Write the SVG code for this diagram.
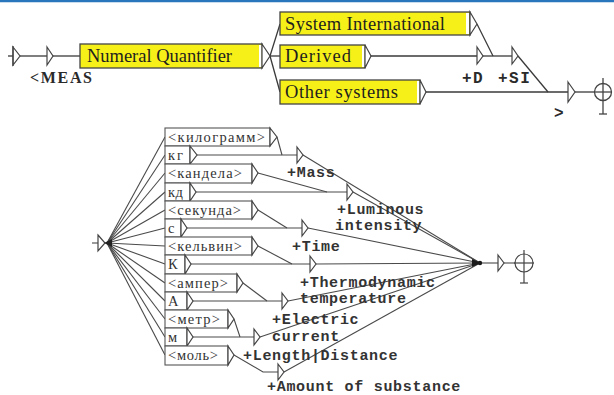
<svg xmlns="http://www.w3.org/2000/svg" width="614" height="395" viewBox="0 0 614 395">
  <style>
    .edge { fill: none; stroke: #3a3a3a; stroke-width: 1.3; }
    .edge2 { fill: none; stroke: #4a4a4a; stroke-width: 1.1; }
    .ybox { fill: #f6f018; stroke: #444; stroke-width: 1.3; }
    .wbox { fill: #ffffff; stroke: #555; stroke-width: 1.1; }
    .tri { fill: #ffffff; stroke: #444; stroke-width: 1.2; }
    .ttl { font-family: "Liberation Serif", serif; font-size: 18.5px; fill: #1e1e1e; }
    .cell { font-family: "Liberation Serif", serif; font-size: 14.5px; fill: #333; }
    .out { font-family: "Liberation Mono", monospace; font-weight: bold; font-size: 15px; fill: #333; letter-spacing: 0.7px; }
    .out2 { font-family: "Liberation Mono", monospace; font-weight: bold; font-size: 16px; fill: #2a2a2a; letter-spacing: 1.5px; }
    .meas { font-family: "Liberation Serif", serif; font-weight: bold; font-size: 16px; fill: #2a2a2a; }
  </style>

  <rect x="0" y="0" width="614" height="395" fill="#ffffff"/>
  <line x1="0" y1="1" x2="614" y2="1" stroke="#2a76bc" stroke-width="2.5"/>

  <!-- ===== upper graph ===== -->
  <g id="connectors-top">
    <path class="edge" d="M8,56 H13"/>
    <path class="edge" d="M20,56 H47"/>
    <path class="edge" d="M52,56 H80"/>
    <path class="edge" d="M270,56 L280,24"/>
    <path class="edge" d="M270,56 H280"/>
    <path class="edge" d="M270,56 L280,92"/>
    <path class="edge" d="M477,24 L493,56"/>
    <path class="edge" d="M370,56 H477"/>
    <path class="edge" d="M483,56 H512"/>
    <path class="edge" d="M518,56 L548,92"/>
    <path class="edge" d="M425,92 H568"/>
    <path class="edge" d="M575,92 H595"/>
  </g>

  <g id="start-top">
    <polygon class="tri" points="13,47 20,56 13,65"/>
    <line x1="13" y1="46" x2="13" y2="66" stroke="#444" stroke-width="1.3"/>
  </g>

  <g id="meas">
    <polygon class="tri" points="47,47 53,56 47,65"/>
    <text class="meas" x="30" y="83" textLength="62" lengthAdjust="spacing">&lt;MEAS</text>
  </g>

  <g id="numeral-quantifier">
    <rect class="ybox" x="80" y="44" width="182" height="24"/>
    <rect x="259" y="45" width="2.5" height="22" fill="#ffffff"/>
    <polygon class="tri" points="262,44 270,56 262,68"/>
    <text class="ttl" x="87" y="62" textLength="145" lengthAdjust="spacing">Numeral Quantifier</text>
  </g>

  <g id="system-international">
    <rect class="ybox" x="280" y="12" width="190" height="23"/>
    <rect x="466" y="13" width="3" height="21" fill="#ffffff"/>
    <polygon class="tri" points="470,12 477,24 470,35"/>
    <text class="ttl" x="285" y="30" textLength="160" lengthAdjust="spacing">System International</text>
  </g>

  <g id="derived">
    <rect class="ybox" x="280" y="45" width="85" height="23"/>
    <rect x="362" y="46" width="2.5" height="21" fill="#ffffff"/>
    <polygon class="tri" points="365,45 371,56 365,68"/>
    <text class="ttl" x="285" y="62" textLength="66" lengthAdjust="spacing">Derived</text>
  </g>

  <g id="other-systems">
    <rect class="ybox" x="280" y="80" width="140" height="24"/>
    <rect x="417" y="81" width="2.5" height="22" fill="#ffffff"/>
    <polygon class="tri" points="420,80 426,92 420,104"/>
    <text class="ttl" x="285" y="98" textLength="113" lengthAdjust="spacing">Other systems</text>
  </g>

  <g id="out-d">
    <polygon class="tri" points="477,47 483,56 477,64"/>
    <text class="out2" x="462" y="83">+D</text>
  </g>

  <g id="out-si">
    <polygon class="tri" points="512,47 518,56 512,64"/>
    <text class="out2" x="498" y="83">+SI</text>
  </g>

  <g id="close-meas">
    <polygon class="tri" points="568,82 575,92 568,102"/>
    <text class="out2" x="554" y="118">&gt;</text>
  </g>

  <g id="final-top" fill="none" stroke="#444" stroke-width="1.3">
    <circle cx="603" cy="92" r="8.5"/>
    <line x1="603" y1="78" x2="603" y2="114"/>
    <line x1="594" y1="92" x2="612" y2="92"/>
    <line x1="599" y1="114" x2="607" y2="114"/>
  </g>

  <!-- ===== lower graph ===== -->
  <g id="connectors-bottom">
    <!-- fan from the initial state -->
    <path class="edge2" d="M107,243 L165,137"/>
    <path class="edge2" d="M107,243 L165,155"/>
    <path class="edge2" d="M107,243 L165,173"/>
    <path class="edge2" d="M107,243 L165,192"/>
    <path class="edge2" d="M107,243 L165,210"/>
    <path class="edge2" d="M107,243 L165,228"/>
    <path class="edge2" d="M107,243 L165,246"/>
    <path class="edge2" d="M107,243 L165,264"/>
    <path class="edge2" d="M107,243 L165,283"/>
    <path class="edge2" d="M107,243 L165,301"/>
    <path class="edge2" d="M107,243 L165,319"/>
    <path class="edge2" d="M107,243 L165,337"/>
    <path class="edge2" d="M107,243 L165,355"/>
    <!-- long forms -->
    <path class="edge2" d="M277,137 L282,155"/>
    <path class="edge2" d="M258,173 L327,192"/>
    <path class="edge2" d="M258,210 L287,228"/>
    <path class="edge2" d="M258,246 L292,264"/>
    <path class="edge2" d="M243,283 L267,301"/>
    <path class="edge2" d="M234,319 L240,337"/>
    <path class="edge2" d="M234,355 L263,372 H278"/>
    <!-- abbreviations -->
    <path class="edge2" d="M197,155 H297"/>
    <path class="edge2" d="M196,192 H347"/>
    <path class="edge2" d="M187,228 H302"/>
    <path class="edge2" d="M191,264 H310"/>
    <path class="edge2" d="M193,301 H282"/>
    <path class="edge2" d="M193,337 H254"/>
    <!-- outputs to the final state -->
    <path class="edge2" d="M303,155 L480,263"/>
    <path class="edge2" d="M353,192 L480,263"/>
    <path class="edge2" d="M308,228 L480,263"/>
    <path class="edge2" d="M316,264 L480,263"/>
    <path class="edge2" d="M288,301 L480,263"/>
    <path class="edge2" d="M260,337 L480,263"/>
    <path class="edge2" d="M284,372 L480,263"/>
    <path class="edge2" d="M480,263 H498"/>
    <path class="edge2" d="M504,263 H515"/>
    <path class="edge2" d="M92,243 H98"/>
  </g>

  <g id="start-bottom">
    <polygon class="tri" points="98,235 105,243 98,251"/>
    <polygon points="104,243 112,239 112,247" fill="#222"/>
  </g>

  <g id="kilogramm">
    <rect class="wbox" x="165" y="128" width="105" height="18"/>
    <polygon class="tri" points="270,128 277,137 270,146"/>
    <text class="cell" x="168" y="142" textLength="97" lengthAdjust="spacing">&lt;килограмм&gt;</text>
  </g>
  <g id="kg">
    <rect class="wbox" x="165" y="146" width="25" height="18"/>
    <polygon class="tri" points="190,146 197,155 190,164"/>
    <text class="cell" x="168" y="160" textLength="15" lengthAdjust="spacing">кг</text>
  </g>
  <g id="kandela">
    <rect class="wbox" x="165" y="164" width="87" height="19"/>
    <polygon class="tri" points="252,164 258,173 252,183"/>
    <text class="cell" x="168" y="178" textLength="74" lengthAdjust="spacing">&lt;кандела&gt;</text>
  </g>
  <g id="kd">
    <rect class="wbox" x="165" y="183" width="25" height="18"/>
    <polygon class="tri" points="190,183 196,192 190,201"/>
    <text class="cell" x="168" y="197" textLength="15" lengthAdjust="spacing">кд</text>
  </g>
  <g id="sekunda">
    <rect class="wbox" x="165" y="201" width="87" height="18"/>
    <polygon class="tri" points="252,201 258,210 252,219"/>
    <text class="cell" x="168" y="215" textLength="73" lengthAdjust="spacing">&lt;секунда&gt;</text>
  </g>
  <g id="s">
    <rect class="wbox" x="165" y="219" width="16" height="18"/>
    <polygon class="tri" points="181,219 187,228 181,237"/>
    <text class="cell" x="168" y="233">с</text>
  </g>
  <g id="kelvin">
    <rect class="wbox" x="165" y="237" width="87" height="18"/>
    <polygon class="tri" points="252,237 258,246 252,255"/>
    <text class="cell" x="168" y="251" textLength="74" lengthAdjust="spacing">&lt;кельвин&gt;</text>
  </g>
  <g id="k">
    <rect class="wbox" x="165" y="255" width="20" height="19"/>
    <polygon class="tri" points="185,255 191,264 185,274"/>
    <text class="cell" x="168" y="269">К</text>
  </g>
  <g id="amper">
    <rect class="wbox" x="165" y="274" width="72" height="18"/>
    <polygon class="tri" points="237,274 243,283 237,292"/>
    <text class="cell" x="168" y="288" textLength="60" lengthAdjust="spacing">&lt;ампер&gt;</text>
  </g>
  <g id="a">
    <rect class="wbox" x="165" y="292" width="22" height="18"/>
    <polygon class="tri" points="187,292 193,301 187,310"/>
    <text class="cell" x="168" y="306">А</text>
  </g>
  <g id="metr">
    <rect class="wbox" x="165" y="310" width="63" height="18"/>
    <polygon class="tri" points="228,310 234,319 228,328"/>
    <text class="cell" x="168" y="324" textLength="52" lengthAdjust="spacing">&lt;метр&gt;</text>
  </g>
  <g id="m">
    <rect class="wbox" x="165" y="328" width="22" height="18"/>
    <polygon class="tri" points="187,328 193,337 187,346"/>
    <text class="cell" x="168" y="342">м</text>
  </g>
  <g id="mol">
    <rect class="wbox" x="165" y="346" width="63" height="19"/>
    <polygon class="tri" points="228,346 234,355 228,365"/>
    <text class="cell" x="168" y="360" textLength="50" lengthAdjust="spacing">&lt;моль&gt;</text>
  </g>

  <g id="out-mass">
    <polygon class="tri" points="297,147 303,155 297,163"/>
    <text class="out" x="287" y="177">+Mass</text>
  </g>
  <g id="out-luminous">
    <polygon class="tri" points="347,184 353,192 347,200"/>
    <text class="out" x="337" y="214">+Luminous</text>
    <text class="out" x="335" y="230">intensity</text>
  </g>
  <g id="out-time">
    <polygon class="tri" points="302,220 308,228 302,236"/>
    <text class="out" x="292" y="251">+Time</text>
  </g>
  <g id="out-thermo">
    <polygon class="tri" points="310,256 316,264 310,272"/>
    <text class="out" x="300" y="287">+Thermodynamic</text>
    <text class="out" x="300" y="303">temperature</text>
  </g>
  <g id="out-electric">
    <polygon class="tri" points="282,293 288,301 282,309"/>
    <text class="out" x="272" y="324">+Electric</text>
    <text class="out" x="272" y="341">current</text>
  </g>
  <g id="out-length">
    <polygon class="tri" points="254,329 260,337 254,345"/>
    <text class="out" x="243" y="360">+Length|Distance</text>
  </g>
  <g id="out-amount">
    <polygon class="tri" points="278,364 284,372 278,380"/>
    <text class="out" x="267" y="391">+Amount of substance</text>
  </g>

  <g id="junction">
    <polygon points="472,259 481,263 472,267" fill="#1a1a1a"/>
    <circle cx="480" cy="263" r="2.2" fill="#1a1a1a"/>
  </g>
  <g id="close-bottom">
    <polygon class="tri" points="498,255 504,263 498,271"/>
  </g>
  <g id="final-bottom" fill="none" stroke="#444" stroke-width="1.2">
    <circle cx="524" cy="263" r="9"/>
    <line x1="524" y1="250" x2="524" y2="283"/>
    <line x1="514" y1="263" x2="534" y2="263"/>
    <line x1="520" y1="283" x2="528" y2="283"/>
  </g>
</svg>
